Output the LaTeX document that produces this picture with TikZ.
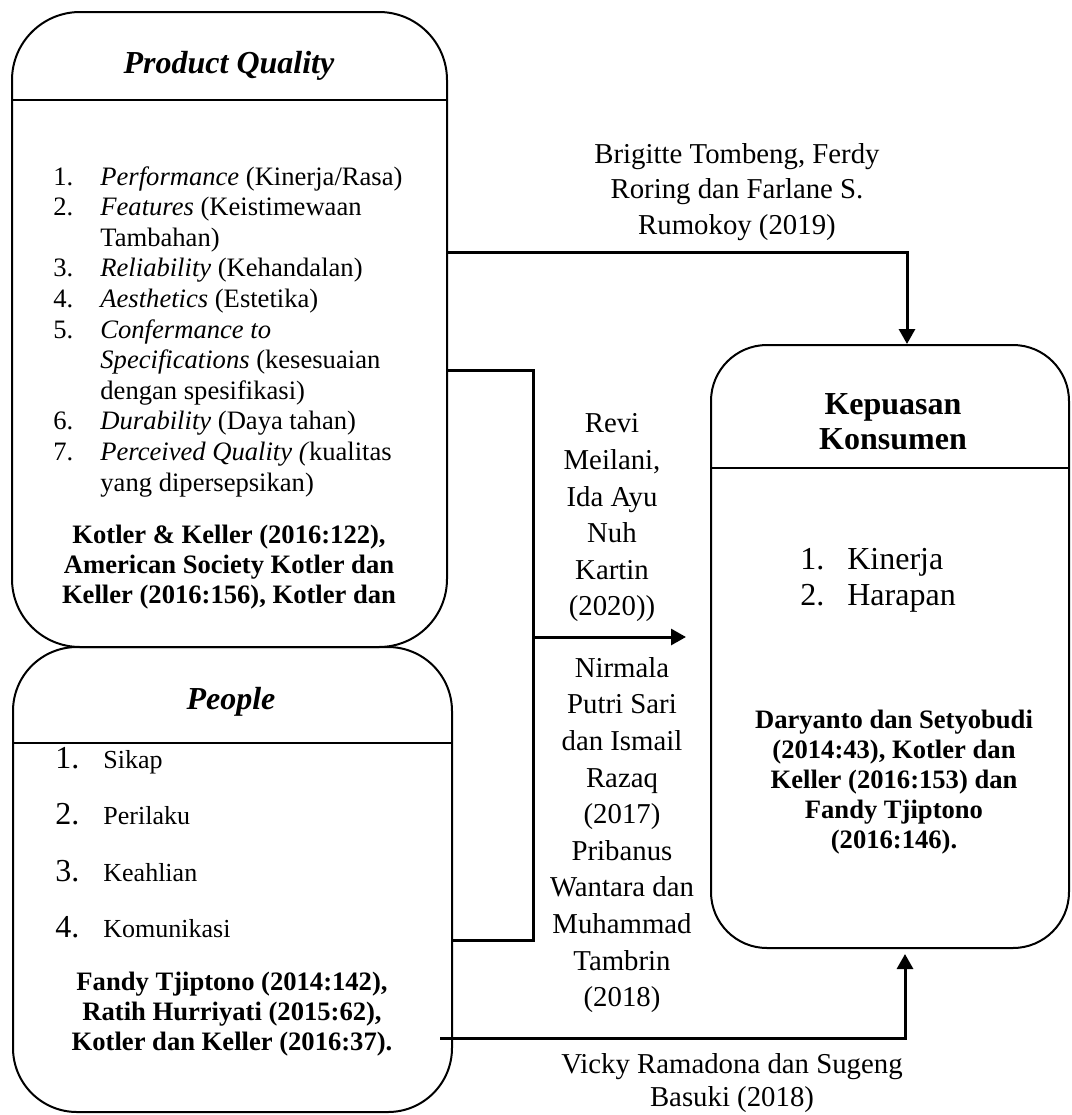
\documentclass[tikz,border=0pt]{standalone}
\usepackage{fontspec}
\setmainfont{Liberation Serif}
\usetikzlibrary{arrows.meta, positioning, calc}

\newcommand\listnum[1]{{\fontsize{16}{18}\selectfont #1}}

\begin{document}
\begin{tikzpicture}[
    x=0.5pt, y=-0.5pt,
    % --- Global styles ---
    >={Triangle[length=7.5pt,width=8pt]},
    every node/.style={inner sep=0pt},
    % --- Variable boxes ---
    box/.style={draw, line width=1pt, inner sep=0pt},
    hdr/.style={line width=1.4pt},
    % --- Arrow styles ---
    flow/.style={->, line width=1.5pt},
    link/.style={line width=1.5pt},
    % --- Text styles ---
    title/.style={font=\fontsize{16}{17.5}\selectfont\bfseries, align=center},
    ref/.style={font=\fontsize{13.3}{15}\selectfont\bfseries, align=center},
    items/.style={anchor=base west, font=\fontsize{13.3}{15.3}\selectfont},
    lbl/.style={font=\fontsize{14.4}{18.3}\selectfont, align=center},
  ]

  \useasboundingbox (0,0) rectangle (1072,1115);

  %% ---- Boxes ----

  % Product Quality
  \node[box, rounded corners=34pt, minimum width=217.5pt, minimum height=317.5pt]
    (pq) at (229.5,329.5) {};
  % People
  \node[box, rounded corners=32pt, minimum width=219.5pt, minimum height=232.5pt]
    (people) at (232.5,879.5) {};
  % Kepuasan Konsumen
  \node[box, rounded corners=28pt, minimum width=179pt, minimum height=301.5pt]
    (kep) at (890,646.5) {};

  %% ---- Header rules ----

  \coordinate (pqhdr) at (0,100);
  \coordinate (pplhdr) at (0,743);
  \coordinate (kephdr) at (0,468);
  \draw[hdr] (pq.west |- pqhdr) -- (pq.east |- pqhdr);
  \draw[hdr] (people.west |- pplhdr) -- (people.east |- pplhdr);
  \draw[hdr] (kep.west |- kephdr) -- (kep.east |- kephdr);

  %% ---- Box contents ----

  % Product Quality
  \node[title, font=\fontsize{16}{17.5}\selectfont\bfseries\itshape] (pqtitle) at (229,66)
    {Product Quality};
  \node[items] (pqlist) at (53,185) {\begin{tabular}[t]{@{}p{23.5pt}@{}l@{}}
    1. & \textit{Performance} (Kinerja/Rasa)\\
    2. & \textit{Features} (Keistimewaan\\
       & Tambahan)\\
    3. & \textit{Reliability} (Kehandalan)\\
    4. & \textit{Aesthetics} (Estetika)\\
    5. & \textit{Confermance to}\\
       & \textit{Specifications} (kesesuaian\\
       & dengan spesifikasi)\\
    6. & \textit{Durability} (Daya tahan)\\
    7. & \textit{Perceived Quality (}kualitas\\
       & yang dipersepsikan)
  \end{tabular}};
  \node[ref] (pqref) at (229,567)
    {Kotler \& Keller (2016:122),\\American Society Kotler dan\\Keller (2016:156), Kotler dan};

  % People
  \node[title, font=\fontsize{16}{17.5}\selectfont\bfseries\itshape] (ppltitle) at (231,702)
    {People};
  \node[items, font=\fontsize{13}{28.3}\selectfont] (ppllist) at (55,768)
    {\begin{tabular}[t]{@{}p{24pt}@{}l@{}}
    \listnum{1.} & Sikap\\
    \listnum{2.} & Perilaku\\
    \listnum{3.} & Keahlian\\
    \listnum{4.} & Komunikasi
  \end{tabular}};
  \node[ref] (pplref) at (232,1014)
    {Fandy Tjiptono (2014:142),\\Ratih Hurriyati (2015:62),\\Kotler dan Keller (2016:37).};

  % Kepuasan Konsumen
  \node[title] (keptitle) at (893,422) {Kepuasan\\Konsumen};
  \node[items, font=\fontsize{16}{18}\selectfont] (keplist) at (800,569)
    {\begin{tabular}[t]{@{}p{23.5pt}@{}l@{}}
    1. & Kinerja\\
    2. & Harapan
  \end{tabular}};
  \node[ref] (kepref) at (894,782)
    {Daryanto dan Setyobudi\\(2014:43), Kotler dan\\Keller (2016:153) dan\\Fandy Tjiptono\\(2016:146).};

  %% ---- Connectors ----

  \coordinate (brigturn) at (907,252);
  \draw[flow] (pq.east |- brigturn) -- (brigturn) -- (kep.north -| brigturn);

  \coordinate (jtop) at (533,370);
  \coordinate (jmid) at (533,637);
  \coordinate (jbot) at (533,940);
  \draw[link] (pq.east |- jtop) -- (jtop) -- (jbot) -- (people.east |- jbot);
  \draw[flow, shorten >=12pt] (jmid) -- (kep.west |- jmid);

  \coordinate (vstart) at (440,1038);
  \coordinate (vturn) at (905,1038);
  \draw[flow, shorten >=2.5pt] (vstart) -- (vturn) -- (kep.south -| vturn);

  %% ---- Labels ----

  \node[lbl, font=\fontsize{14.4}{17.75}\selectfont] (brig) at (737,192)
    {Brigitte Tombeng, Ferdy\\Roring dan Farlane S.\\Rumokoy (2019)};
  \node[lbl] (revi) at (612,518)
    {Revi\\Meilani,\\Ida Ayu\\Nuh\\Kartin\\(2020))};
  \node[lbl] (nirmala) at (622,835)
    {Nirmala\\Putri Sari\\dan Ismail\\Razaq\\(2017)\\Pribanus\\Wantara dan\\Muhammad\\Tambrin\\(2018)};
  \node[lbl, font=\fontsize{14.4}{16.5}\selectfont] (vicky) at (732,1083)
    {Vicky Ramadona dan Sugeng\\Basuki (2018)};

\end{tikzpicture}
\end{document}
